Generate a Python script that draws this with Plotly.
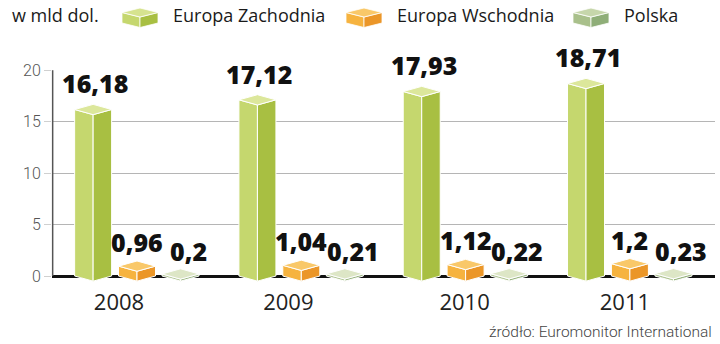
import plotly.graph_objects as go

# ---------------- data ----------------
years = ["2008", "2009", "2010", "2011"]
series_names = ["Europa Zachodnia", "Europa Wschodnia", "Polska"]
europa_zachodnia = [16.18, 17.12, 17.93, 18.71]
europa_wschodnia = [0.96, 1.04, 1.12, 1.2]
polska = [0.2, 0.21, 0.22, 0.23]
y_ticks = [0, 5, 10, 15, 20]
unit_label = "w mld dol."
source_label = "źródło: Euromonitor International"

series_values = {
    "Europa Zachodnia": europa_zachodnia,
    "Europa Wschodnia": europa_wschodnia,
    "Polska": polska,
}

# ---------------- style ----------------
W, H = 720, 344
ML, MR, MT, MB = 52, 5, 70, 58
PW, PH = W - ML - MR, H - MT - MB
GROUP_PX = 164.3
X0 = -(137 - ML) / GROUP_PX
X1 = X0 + PW / GROUP_PX
Y_MIN, Y_MAX = -0.97, 20.02
HW = 18.5 / GROUP_PX      # half width of a box (x units)
DEPTH = 0.5               # isometric depth (y units)

STYLE = {
    "Europa Zachodnia": dict(offset=-0.267, left="#c5d76e", right="#a8bf42", top="#dce79b", dx=2, dy=3, bg=True),
    "Europa Wschodnia": dict(offset=0.0, left="#f6b33f", right="#eb9628", top="#f9c869", dx=0, dy=1, bg=False),
    "Polska": dict(offset=0.265, left="#b3c796", right="#9bb682", top="#dde6c6", dx=8, dy=0, bg=False),
}
ICON = {
    "Europa Zachodnia": dict(left="#c5d76e", right="#a8bf42", top="#d6e38f"),
    "Europa Wschodnia": dict(left="#f6b33f", right="#eb9628", top="#f9c869"),
    "Polska": dict(left="#a9c08b", right="#8fae78", top="#c6d6ab"),
}
YEAR_NUDGE_PX = [-18, -13, -1, -5]


def fmt(v):
    return f"{v}".replace(".", ",")


def pxp(x, y):
    return (x - ML) / PW, (H - MB - y) / PH


fig = go.Figure()

# 3-D boxes built from data values
for name in series_names:
    st = STYLE[name]
    vals = series_values[name]
    faces = {"left": ([], []), "right": ([], []), "top": ([], [])}
    for i, v in enumerate(vals):
        c = i + st["offset"]
        lx, ly = faces["left"]
        lx += [c - HW, c - HW, c, c, c - HW, None]
        ly += [0, v, v - DEPTH, -DEPTH, 0, None]
        rx, ry = faces["right"]
        rx += [c, c, c + HW, c + HW, c, None]
        ry += [-DEPTH, v - DEPTH, v, 0, -DEPTH, None]
        tx, ty = faces["top"]
        tx += [c - HW, c, c + HW, c, c - HW, None]
        ty += [v, v + DEPTH, v, v - DEPTH, v, None]
    for face in ["left", "right", "top"]:
        fx, fy = faces[face]
        fig.add_trace(go.Scatter(
            x=fx, y=fy, mode="lines", fill="toself", fillcolor=st[face],
            line=dict(color="white", width=1), hoverinfo="skip", showlegend=False,
        ))
    for i, v in enumerate(vals):
        fig.add_annotation(
            x=i + st["offset"], y=v + DEPTH, xref="x", yref="y",
            text=fmt(v), showarrow=False, yanchor="bottom", xanchor="center",
            yshift=st["dy"], xshift=st["dx"],
            font=dict(family="Open Sans", size=25, color="#111111", weight=800),
            bgcolor="white" if st["bg"] else None, borderpad=0,
        )

# y-axis vertical line (from 0 to 20)
yp0 = (0 - Y_MIN) / (Y_MAX - Y_MIN)
yp1 = (20 - Y_MIN) / (Y_MAX - Y_MIN)
fig.add_shape(type="line", xref="paper", yref="paper", x0=0.001, x1=0.001, y0=yp0, y1=yp1,
              line=dict(color="#555555", width=1.5), layer="above")

# legend
fig.add_annotation(xref="paper", yref="paper", x=pxp(10, 0)[0], y=pxp(0, 15)[1],
                   text=unit_label, showarrow=False, xanchor="left", yanchor="middle",
                   font=dict(family="Open Sans", size=18, color="#1a1a1a"))
legend_items = [("Europa Zachodnia", 122, 171), ("Europa Wschodnia", 346, 395), ("Polska", 573, 622)]
for name, ix, tx in legend_items:
    col = ICON[name]
    hw, h1, top, bot = 18, 4.5, 8, 23
    def P(pts):
        s = ""
        for k, (a, b) in enumerate(pts):
            px, py = pxp(a, b)
            s += ("M" if k == 0 else "L") + f"{px:.5f},{py:.5f} "
        return s + "Z"
    left = [(ix, top + h1), (ix + hw, top + 2 * h1), (ix + hw, bot + h1), (ix, bot)]
    right = [(ix + hw, top + 2 * h1), (ix + 2 * hw, top + h1), (ix + 2 * hw, bot), (ix + hw, bot + h1)]
    topf = [(ix, top + h1), (ix + hw, top), (ix + 2 * hw, top + h1), (ix + hw, top + 2 * h1)]
    for pts, c in [(left, col["left"]), (right, col["right"]), (topf, col["top"])]:
        fig.add_shape(type="path", xref="paper", yref="paper", path=P(pts),
                      fillcolor=c, line=dict(color="white", width=0.8), layer="above")
    fig.add_annotation(xref="paper", yref="paper", x=pxp(tx, 0)[0], y=pxp(0, 15)[1],
                       text=name, showarrow=False, xanchor="left", yanchor="middle",
                       font=dict(family="Open Sans", size=18, color="#1a1a1a"))

# source
fig.add_annotation(xref="paper", yref="paper", x=pxp(714, 0)[0], y=pxp(0, 332)[1],
                   text=source_label, showarrow=False, xanchor="right", yanchor="middle",
                   font=dict(family="Roboto", size=15.5, color="#444444", weight=300))

fig.update_layout(
    width=W, height=H, margin=dict(l=ML, r=MR, t=MT, b=MB),
    paper_bgcolor="white", plot_bgcolor="white", showlegend=False,
    font=dict(family="Open Sans"),
    xaxis=dict(range=[X0, X1], showgrid=False, zeroline=False, showline=False,
               tickvals=[i + YEAR_NUDGE_PX[i] / GROUP_PX for i in range(len(years))],
               ticktext=years, ticks="", ticklabelstandoff=1,
               tickfont=dict(family="Open Sans", size=22, color="#222222")),
    yaxis=dict(range=[Y_MIN, Y_MAX], tickvals=y_ticks, ticktext=[str(t) for t in y_ticks],
               showgrid=True, gridcolor="#b5b5b5", gridwidth=1,
               zeroline=True, zerolinecolor="#111111", zerolinewidth=2.5,
               showline=False, ticks="outside", ticklen=7, tickcolor="#d0d0d0",
               tickfont=dict(family="Roboto", size=16, color="#555555", weight=300)),
)

fig.write_html("out.html")
